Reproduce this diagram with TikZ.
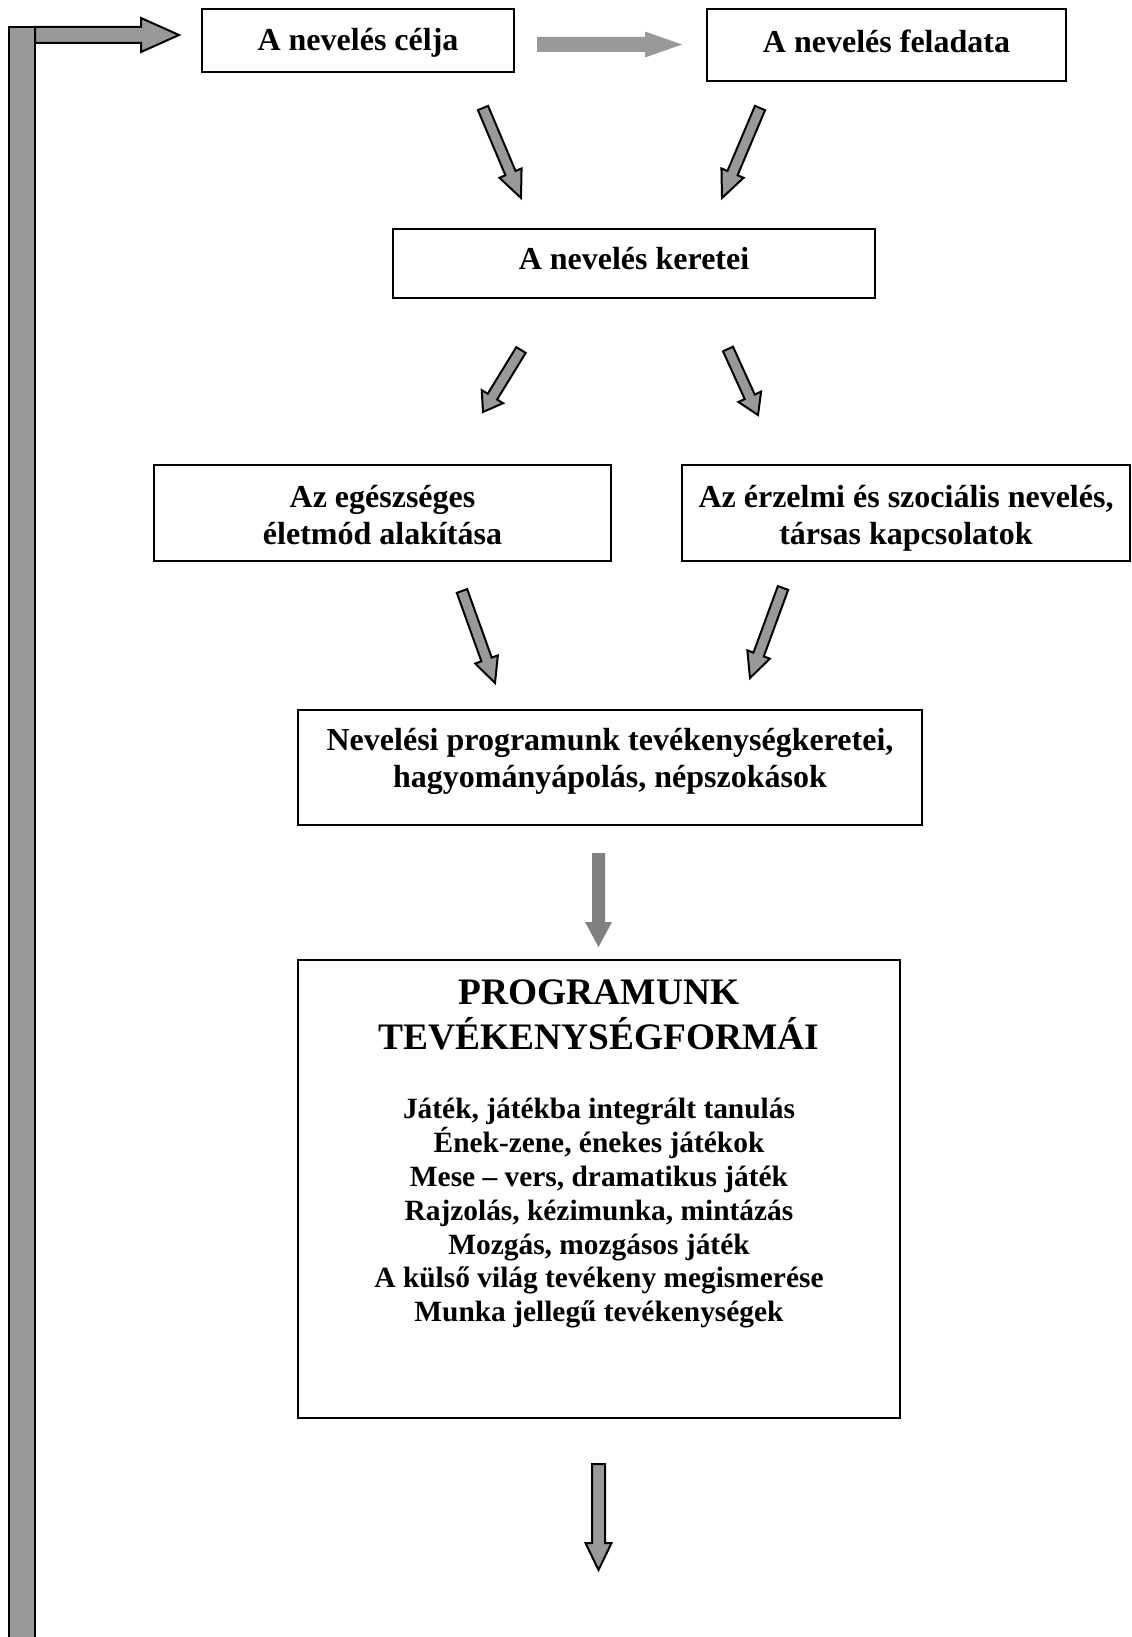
\documentclass[tikz,border=0pt]{standalone}
\usepackage{fontspec}
\setmainfont{Liberation Serif}
\usetikzlibrary{calc,positioning}

\definecolor{nyilszurke}{RGB}{153,153,153}
\definecolor{sotetszurke}{RGB}{128,128,128}

% vastag (blokk) nyil: [stilus]{honnan}{hova}{fel szar}{fel fej}{fejhossz}
\newcommand{\nyil}[6][]{%
	\coordinate (ny-h) at ($(#3)!#6!(#2)$);
	\draw[nyilstilus,#1] ($(#2)!#4!90:(#3)$) -- ($(ny-h)!#4!90:(#3)$)
		-- ($(ny-h)!#5!90:(#3)$) -- (#3) -- ($(ny-h)!#5!-90:(#3)$)
		-- ($(ny-h)!#4!-90:(#3)$) -- ($(#2)!#4!-90:(#3)$) -- cycle;
}

\begin{document}
\begin{tikzpicture}[x=0.5pt,y=-0.5pt]

		\tikzset{doboz/.style =
				{draw, line width=0.9pt, align=center, inner sep=0pt, text depth=0pt,
				font=\fontsize{16}{18.3}\selectfont\bfseries}
		}
		\tikzset{nyilstilus/.style =
				{draw=black, line width=1pt, fill=nyilszurke, line join=miter}
		}

		\useasboundingbox (0,0) rectangle (1131,1637);

		%boxes
		\node[doboz, minimum width=156pt, minimum height=31.5pt, text height=9.8pt] (celja) at (358,40.5) {A nevelés célja};
		\node[doboz, minimum width=179.5pt, minimum height=36pt, text height=7.4pt] (feladata) at (886.5,45) {A nevelés feladata};
		\node[doboz, minimum width=241pt, minimum height=34.5pt, text height=6.1pt] (keretei) at (634,263.5) {A nevelés keretei};
		\node[doboz, minimum width=228.5pt, minimum height=48pt, text height=31.2pt] (egeszseg) at (382.5,513) {Az egészséges\\életmód alakítása};
		\node[doboz, minimum width=224pt, minimum height=48pt, text height=31.2pt] (erzelmi) at (906,513) {Az érzelmi és szociális nevelés,\\társas kapcsolatok};
		\node[doboz, minimum width=312pt, minimum height=57.5pt, text height=20pt] (keretek) at (610,767.5) {Nevelési programunk tevékenységkeretei,\\hagyományápolás, népszokások};

		%formak
		\node[doboz, minimum width=301pt, minimum height=229pt] (formai) at (599,1189) {};
		\node[anchor=north, align=center, inner sep=0pt,
			font=\fontsize{18.7}{22.5}\selectfont\bfseries] (formaicim) at (599,979)
			{PROGRAMUNK\\TEVÉKENYSÉGFORMÁI};
		\node[below=24pt of formaicim, align=center, inner sep=0pt,
			font=\fontsize{14.7}{16.9}\selectfont\bfseries] (formalista)
			{Játék, játékba integrált tanulás\\
			 Ének-zene, énekes játékok\\
			 Mese -- vers, dramatikus játék\\
			 Rajzolás, kézimunka, mintázás\\
			 Mozgás, mozgásos játék\\
			 A külső világ tevékeny megismerése\\
			 Munka jellegű tevékenységek};

		%arrow ends
		\coordinate (vissza) at (35,35);
		\coordinate (vissza-hegy) at (179,35);
		\coordinate (celja-ki) at (537,44.5);
		\coordinate (feladata-be) at (682,44.5);
		\coordinate (celja-le) at (483,108);
		\coordinate (celja-le-hegy) at (521,198);
		\coordinate (feladata-le) at (760,108);
		\coordinate (feladata-le-hegy) at (722,198);
		\coordinate (keretei-bal) at (521,350);
		\coordinate (keretei-bal-hegy) at (483,412);
		\coordinate (keretei-jobb) at (728,349);
		\coordinate (keretei-jobb-hegy) at (758,415);
		\coordinate (egeszseg-le) at (462,591);
		\coordinate (egeszseg-le-hegy) at (495,683);
		\coordinate (erzelmi-le) at (783,588);
		\coordinate (erzelmi-le-hegy) at (750,678);
		\coordinate (keretek-le) at (598.5,853);
		\coordinate (keretek-le-hegy) at (598.5,947);
		\coordinate (formai-le) at (598.5,1464);
		\coordinate (formai-le-hegy) at (598.5,1570);

		%feedback
		\draw[nyilstilus] (9,1660) rectangle (35,27);
		\nyil{vissza}{vissza-hegy}{4pt}{8.5pt}{19pt}

		%arrows
		\nyil[draw=none]{celja-ki}{feladata-be}{3.75pt}{6.5pt}{18.5pt}
		\nyil{celja-le}{celja-le-hegy}{2.75pt}{6pt}{13.5pt}
		\nyil{feladata-le}{feladata-le-hegy}{2.75pt}{6pt}{13.5pt}
		\nyil{keretei-bal}{keretei-bal-hegy}{2.75pt}{6.25pt}{9pt}
		\nyil{keretei-jobb}{keretei-jobb-hegy}{2.75pt}{6.25pt}{10pt}
		\nyil{egeszseg-le}{egeszseg-le-hegy}{2.75pt}{6pt}{12.5pt}
		\nyil{erzelmi-le}{erzelmi-le-hegy}{2.75pt}{6pt}{12.5pt}
		\nyil[draw=none, fill=sotetszurke]{keretek-le}{keretek-le-hegy}{3.25pt}{6.75pt}{12.5pt}
		\nyil{formai-le}{formai-le-hegy}{3.25pt}{6.5pt}{13.5pt}
	\end{tikzpicture}
\end{document}
